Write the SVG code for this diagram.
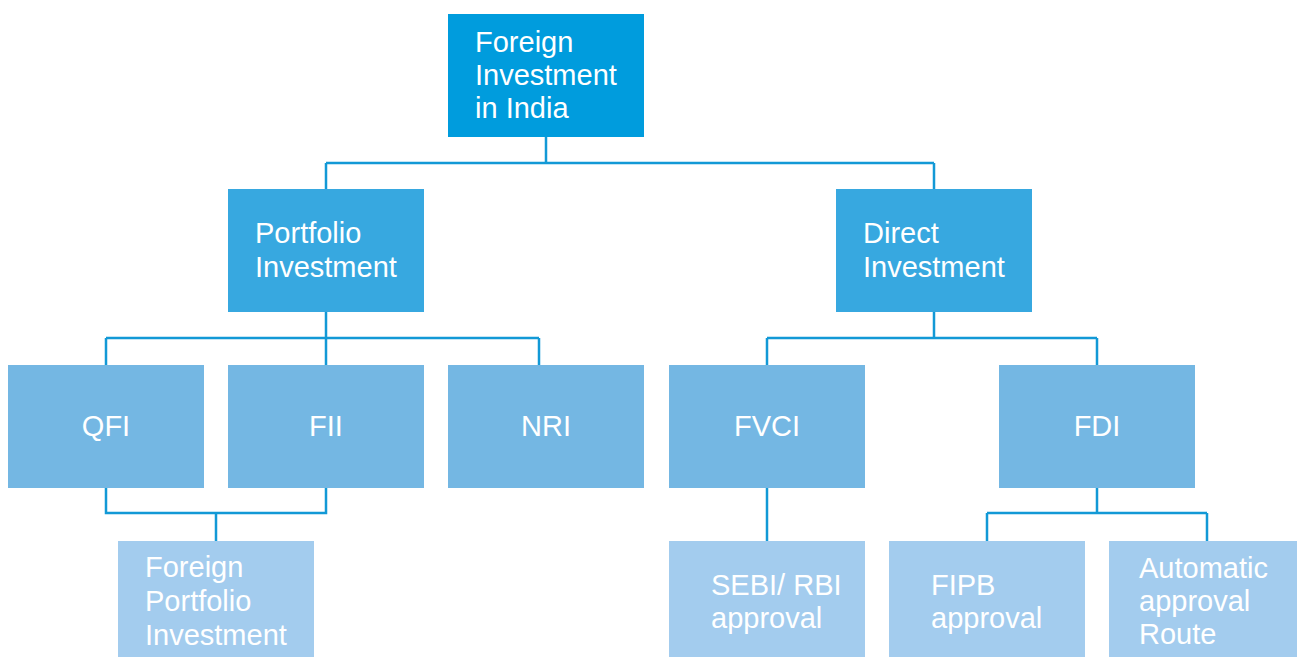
<svg xmlns="http://www.w3.org/2000/svg" width="1297" height="657" viewBox="0 0 1297 657">
<style>
.l1{fill:#009cdd}
.l2{fill:#37a8e0}
.l3{fill:#74b7e3}
.l4{fill:#a3ccee}
text{font-family:"Liberation Sans",Arial,sans-serif;font-size:29px;fill:#ffffff}
.c{text-anchor:middle}
.conn{fill:none;stroke:#1299d6;stroke-width:2.5}
</style>
<rect width="1297" height="657" fill="#ffffff"/>
<g id="connectors" class="conn">
<path d="M546 137V163M326 163H934M326 163V189M934 163V189"/>
<path d="M326 312V338M106 338H539M106 338V365M326 338V365M539 338V365"/>
<path d="M934 312V338M767 338H1097M767 338V365M1097 338V365"/>
<path d="M106 488V513H326V488M216 513V541"/>
<path d="M767 488V541"/>
<path d="M1097 488V513M987 513H1207M987 513V541M1207 513V541"/>
</g>
<g id="root"><rect class="l1" x="448" y="14" width="196" height="123"/>
<text x="475" y="52">Foreign</text><text x="475" y="85">Investment</text><text x="475" y="118">in India</text></g>
<g id="portfolio"><rect class="l2" x="228" y="189" width="196" height="123"/>
<text x="255" y="243">Portfolio</text><text x="255" y="277">Investment</text></g>
<g id="direct"><rect class="l2" x="836" y="189" width="196" height="123"/>
<text x="863" y="243">Direct</text><text x="863" y="277">Investment</text></g>
<g id="qfi"><rect class="l3" x="8" y="365" width="196" height="123"/><text class="c" x="106" y="436">QFI</text></g>
<g id="fii"><rect class="l3" x="228" y="365" width="196" height="123"/><text class="c" x="326" y="436">FII</text></g>
<g id="nri"><rect class="l3" x="448" y="365" width="196" height="123"/><text class="c" x="546" y="436">NRI</text></g>
<g id="fvci"><rect class="l3" x="669" y="365" width="196" height="123"/><text class="c" x="767" y="436">FVCI</text></g>
<g id="fdi"><rect class="l3" x="999" y="365" width="196" height="123"/><text class="c" x="1097" y="436">FDI</text></g>
<g id="fpi"><rect class="l4" x="118" y="541" width="196" height="123"/>
<text x="145" y="577">Foreign</text><text x="145" y="611">Portfolio</text><text x="145" y="645">Investment</text></g>
<g id="sebi"><rect class="l4" x="669" y="541" width="196" height="123"/>
<text x="711" y="595">SEBI/ RBI</text><text x="711" y="628">approval</text></g>
<g id="fipb"><rect class="l4" x="889" y="541" width="196" height="123"/>
<text x="931" y="595">FIPB</text><text x="931" y="628">approval</text></g>
<g id="auto"><rect class="l4" x="1109" y="541" width="196" height="123"/>
<text x="1139" y="578">Automatic</text><text x="1139" y="611">approval</text><text x="1139" y="644">Route</text></g>
</svg>
